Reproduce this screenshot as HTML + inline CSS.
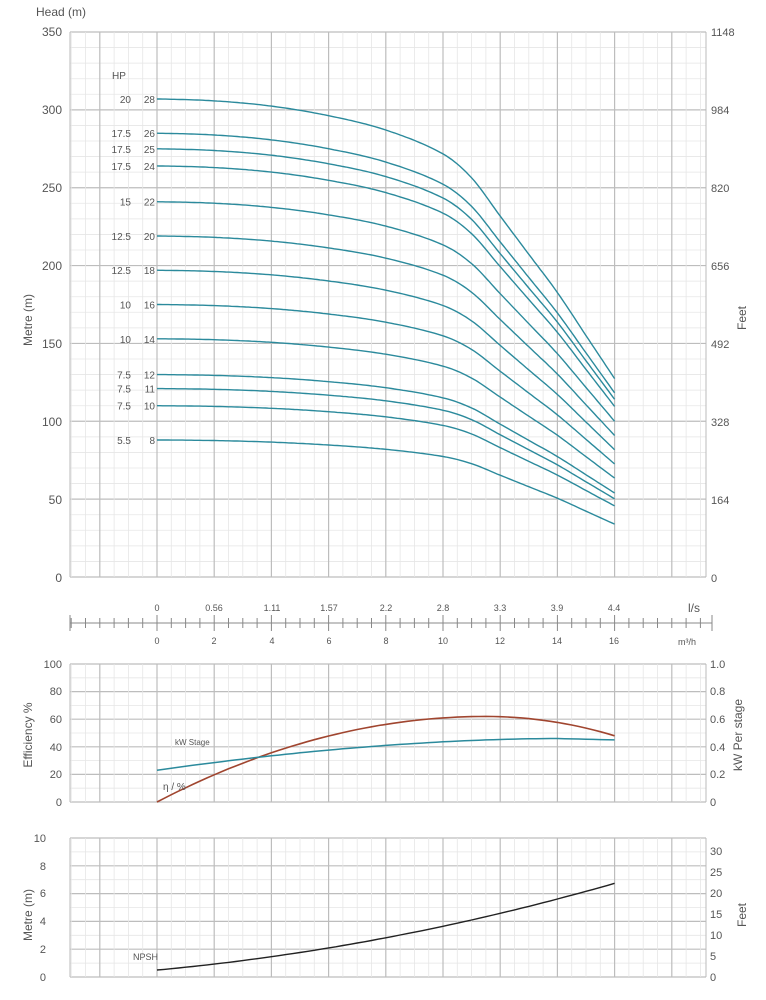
<!DOCTYPE html>
<html><head><meta charset="utf-8"><style>
body{margin:0;background:#fff}
svg{display:block;font-family:"Liberation Sans",sans-serif}
text{fill:#555}
</style></head><body>
<svg id="s" width="766" height="1000" viewBox="0 0 766 1000" xmlns="http://www.w3.org/2000/svg">
<g id="grid"></g>
<g id="curves" fill="none"></g>
<text x="36" y="16" font-size="12">Head (m)</text>
<g font-size="12" text-anchor="end">
<text x="62" y="36">350</text><text x="62" y="114">300</text><text x="62" y="192">250</text>
<text x="62" y="270">200</text><text x="62" y="348">150</text><text x="62" y="426">100</text>
<text x="62" y="504">50</text><text x="62" y="582">0</text>
</g>
<g font-size="11">
<text x="711" y="36">1148</text><text x="711" y="114">984</text><text x="711" y="192">820</text>
<text x="711" y="270">656</text><text x="711" y="348">492</text><text x="711" y="426">328</text>
<text x="711" y="504">164</text><text x="711" y="582">0</text>
</g>
<text transform="translate(32,320) rotate(-90)" font-size="12" text-anchor="middle">Metre (m)</text>
<text transform="translate(746,318) rotate(-90)" font-size="12" text-anchor="middle">Feet</text>
<g font-size="10" fill="#444">
<text x="112" y="79">HP</text>
</g>
<g id="hp" font-size="10"></g>
<g id="scale" stroke="#888" stroke-width="1"></g>
<g font-size="9" text-anchor="middle">
<text x="157" y="611">0</text><text x="214" y="611">0.56</text><text x="272" y="611">1.11</text>
<text x="329" y="611">1.57</text><text x="386" y="611">2.2</text><text x="443" y="611">2.8</text>
<text x="500" y="611">3.3</text><text x="557" y="611">3.9</text><text x="614" y="611">4.4</text>
<text x="157" y="644">0</text><text x="214" y="644">2</text><text x="272" y="644">4</text>
<text x="329" y="644">6</text><text x="386" y="644">8</text><text x="443" y="644">10</text>
<text x="500" y="644">12</text><text x="557" y="644">14</text><text x="614" y="644">16</text>
</g>
<text x="688" y="612" font-size="12">l/s</text>
<text x="678" y="645" font-size="9">m³/h</text>
<g font-size="11" text-anchor="end">
<text x="62" y="668" fill="#a0452f">100</text><text x="62" y="695" fill="#a0452f">80</text>
<text x="62" y="723" fill="#a0452f">60</text><text x="62" y="751" fill="#a0452f">40</text>
<text x="62" y="778" fill="#a0452f">20</text><text x="62" y="806" fill="#a0452f">0</text>
</g>
<g font-size="11">
<text x="710" y="668" fill="#3a9aac">1.0</text><text x="710" y="695" fill="#3a9aac">0.8</text>
<text x="710" y="723" fill="#3a9aac">0.6</text><text x="710" y="751" fill="#3a9aac">0.4</text>
<text x="710" y="778" fill="#3a9aac">0.2</text><text x="710" y="806" fill="#3a9aac">0</text>
</g>
<text transform="translate(32,735) rotate(-90)" font-size="12" text-anchor="middle">Efficiency %</text>
<text transform="translate(742,735) rotate(-90)" font-size="12" text-anchor="middle">kW Per stage</text>
<text x="175" y="745" font-size="8" fill="#3a9aac">kW Stage</text>
<text x="163" y="790" font-size="10" fill="#a0452f">η / %</text>
<g font-size="11" text-anchor="end">
<text x="46" y="842">10</text><text x="46" y="870">8</text><text x="46" y="897">6</text>
<text x="46" y="925">4</text><text x="46" y="953">2</text><text x="46" y="981">0</text>
</g>
<g font-size="11">
<text x="710" y="855">30</text><text x="710" y="876">25</text><text x="710" y="897">20</text>
<text x="710" y="918">15</text><text x="710" y="939">10</text><text x="710" y="960">5</text><text x="710" y="981">0</text>
</g>
<text transform="translate(32,915) rotate(-90)" font-size="12" text-anchor="middle">Metre (m)</text>
<text transform="translate(746,915) rotate(-90)" font-size="12" text-anchor="middle">Feet</text>
<text x="133" y="960" font-size="9" fill="#222">NPSH</text>
</svg>
<script>
var NS="http://www.w3.org/2000/svg";
function el(p,t,a){var e=document.createElementNS(NS,t);for(var k in a)e.setAttribute(k,a[k]);p.appendChild(e);return e;}
var g=document.getElementById('grid'),c=document.getElementById('curves');
var X0=157,DX=57.2/2;
function X(q){return X0+q*DX;}
function grid(y0,y1,rows,majorEvery){
  var L=70,R=706;
  for(var i=0;i<=rows;i++){var y=y0+(y1-y0)*i/rows;var maj=(i%majorEvery==0);
    el(g,'line',{x1:L,x2:R,y1:y,y2:y,stroke:maj?'#bdbdbd':'#e6e6e6','stroke-width':maj?1.2:0.8});}
  for(var q=-3;q<=19.2;q+=0.5){var x=X(q);if(x<L-0.5||x>R+0.5)continue;var maj=Math.abs(q/2-Math.round(q/2))<1e-6;
    el(g,'line',{x1:x,x2:x,y1:y0,y2:y1,stroke:maj?'#bdbdbd':'#e6e6e6','stroke-width':maj?1.2:0.8});}
  el(g,'line',{x1:L,x2:L,y1:y0,y2:y1,stroke:'#bbb'});el(g,'line',{x1:R,x2:R,y1:y0,y2:y1,stroke:'#bbb'});
}
grid(32,577,35,5);
grid(664,802,10,2);
grid(838,977,10,2);
var fq=[-2,0,2,4,6,8,10,11,12,13,14,15,16,18],fv=[1.001,1,.996,.985,.965,.935,.885,.835,.755,.675,.595,.505,.415,.235];
function f(q){for(var i=2;i<fq.length-1;i++)if(q<=fq[i]+1e-9){
  var p0=fv[i-2],p1=fv[i-1],p2=fv[i],p3=fv[i+1],h=fq[i]-fq[i-1],t=(q-fq[i-1])/h;
  var m1=(p2-p0)/(fq[i]-fq[i-2])*h,m2=(p3-p1)/(fq[i+1]-fq[i-1])*h;
  var t2=t*t,t3=t2*t;
  return (2*t3-3*t2+1)*p1+(t3-2*t2+t)*m1+(-2*t3+3*t2)*p2+(t3-t2)*m2;}
  return fv[fv.length-2];}
var H=[[307,'20','28'],[285,'17.5','26'],[275,'17.5','25'],[264,'17.5','24'],[241,'15','22'],[219,'12.5','20'],[197,'12.5','18'],[175,'10','16'],[153,'10','14'],[130,'7.5','12'],[121,'7.5','11'],[110,'7.5','10'],[88,'5.5','8']];
var hp=document.getElementById('hp');
function Y(h){return 577-h*545/350;}
H.forEach(function(r){var d='';for(var q=0;q<=16.001;q+=0.1){var h=r[0]*f(q);if(r[0]<100)h=r[0]*(1-(1-f(q))*1.05);d+=(q?'L':'M')+X(q).toFixed(1)+','+Y(h).toFixed(1);}
  el(c,'path',{d:d,stroke:'#2b8a9c','stroke-width':1.4});
  var y=Y(r[0])+4;var t=el(hp,'text',{x:131,y:y,'text-anchor':'end'});t.textContent=r[1];
  t=el(hp,'text',{x:155,y:y,'text-anchor':'end'});t.textContent=r[2];});
function pl(pts,yf,col,w){var d='';pts.forEach(function(p,i){d+=(i?'L':'M')+X(p[0]).toFixed(1)+','+yf(p[1]).toFixed(1);});el(c,'path',{d:d,stroke:col,'stroke-width':w});}
var YE=function(v){return 802-v*1.38;};
var eff=[];for(var q=0;q<=16;q+=0.25){var v=62-62*Math.pow((q-11.5)/11.5,2);if(q>11.5)v=62-14*Math.pow((q-11.5)/4.5,2);eff.push([q,v]);}
pl(eff,YE,'#a0452f',1.6);
var kw=[];for(var q=0;q<=16;q+=0.25){var v=0.23+0.23*(1-Math.pow((14-q)/14,1.8));if(q>14)v=0.46-0.01*(q-14)/2;kw.push([q,v*100]);}
pl(kw,YE,'#2b8a9c',1.5);
var YN=function(v){return 977-v*13.9;};
var np=[];for(var q=0;q<=16;q+=0.25){np.push([q,0.5+0.19*q+0.0125*q*q]);}
pl(np,YN,'#222',1.4);
var s=document.getElementById('scale');
el(s,'line',{x1:70,x2:712,y1:623,y2:623});
for(var q=-3;q<=19;q+=0.5){var x=X(q);if(x<70||x>712)continue;var maj=Math.abs(q/2-Math.round(q/2))<1e-6&&q>=0&&q<=16;
  el(s,'line',{x1:x,x2:x,y1:maj?615:618,y2:maj?631:628});}
el(s,'line',{x1:70,x2:70,y1:615,y2:631});el(s,'line',{x1:712,x2:712,y1:615,y2:631});
</script>
</body></html>
